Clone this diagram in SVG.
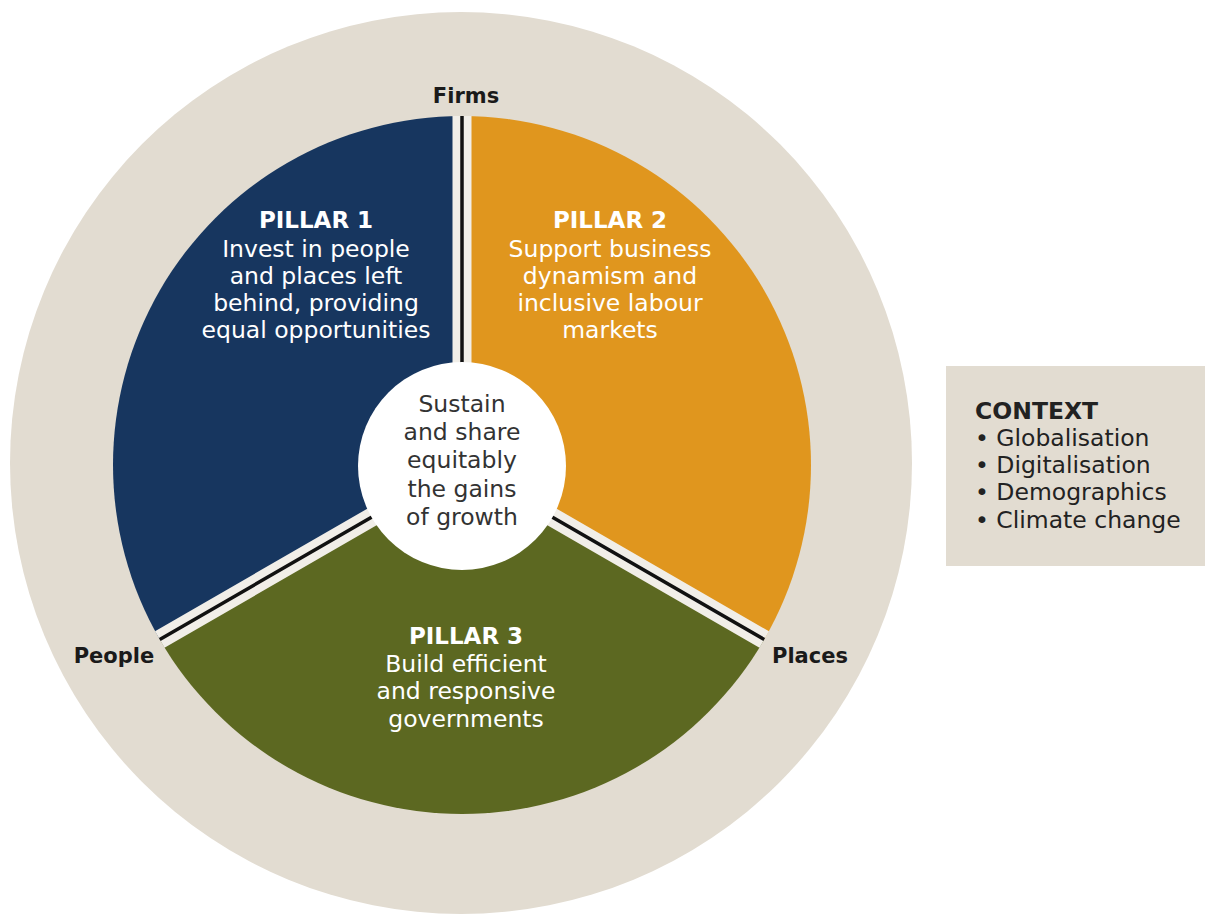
<svg xmlns="http://www.w3.org/2000/svg" width="1205" height="916" viewBox="0 0 1205 916">
<style>
  text { font-family: "DejaVu Sans", Verdana, sans-serif; }
  .lbl { font-size: 21px; font-weight: bold; fill: #1a1a1a; text-anchor: middle; }
  .pt { font-size: 23.5px; fill: #ffffff; text-anchor: middle; }
  .ph { font-size: 23px; font-weight: bold; fill: #ffffff; text-anchor: middle; }
  .ct { font-size: 23.5px; fill: #333333; text-anchor: middle; }
  .cx { font-size: 23.5px; fill: #222222; }
  .gap { stroke: #f1eee8; stroke-width: 19; fill: none; }
  .div { stroke: #111111; stroke-width: 3.5; fill: none; }
</style>
<rect x="0" y="0" width="1205" height="916" fill="#ffffff"/>
<g id="context-ring">
  <circle cx="461" cy="463" r="451" fill="#e2dcd1"/>
</g>
<g id="pillar1">
  <path d="M462,465 L462,116 A349,349 0 0 0 159.76,639.5 Z" fill="#17365f"/>
  <text class="ph" x="316" y="228">PILLAR 1</text>
  <text class="pt" x="316" y="257">Invest in people</text>
  <text class="pt" x="316" y="284">and places left</text>
  <text class="pt" x="316" y="311">behind, providing</text>
  <text class="pt" x="316" y="338">equal opportunities</text>
</g>
<g id="pillar2">
  <path d="M462,465 L462,116 A349,349 0 0 1 764.24,639.5 Z" fill="#e0961e"/>
  <text class="ph" x="610" y="228">PILLAR 2</text>
  <text class="pt" x="610" y="257">Support business</text>
  <text class="pt" x="610" y="284">dynamism and</text>
  <text class="pt" x="610" y="311">inclusive labour</text>
  <text class="pt" x="610" y="338">markets</text>
</g>
<g id="pillar3">
  <path d="M462,465 L159.76,639.5 A349,349 0 0 0 764.24,639.5 Z" fill="#5c6821"/>
  <text class="ph" x="466" y="644">PILLAR 3</text>
  <text class="pt" x="466" y="672">Build efficient</text>
  <text class="pt" x="466" y="699">and responsive</text>
  <text class="pt" x="466" y="727">governments</text>
</g>
<g id="connectors">
  <path class="gap" d="M462,465 L462,116 M462,465 L159.76,639.5 M462,465 L764.24,639.5"/>
  <path class="div" d="M462,465 L462,116 M462,465 L159.76,639.5 M462,465 L764.24,639.5"/>
</g>
<g id="center">
  <circle cx="462" cy="466" r="104" fill="#ffffff"/>
  <text class="ct" x="462" y="412">Sustain</text>
  <text class="ct" x="462" y="440">and share</text>
  <text class="ct" x="462" y="468">equitably</text>
  <text class="ct" x="462" y="497">the gains</text>
  <text class="ct" x="462" y="525">of growth</text>
</g>
<g id="firms"><text class="lbl" x="466" y="103">Firms</text></g>
<g id="people"><text class="lbl" x="114" y="663">People</text></g>
<g id="places"><text class="lbl" x="810" y="663">Places</text></g>
<g id="context">
  <rect x="946" y="366" width="259" height="200" fill="#e2dcd1"/>
  <text class="cx" x="975" y="419" font-weight="bold">CONTEXT</text>
  <text class="cx" x="975" y="446">• Globalisation</text>
  <text class="cx" x="975" y="473">• Digitalisation</text>
  <text class="cx" x="975" y="500">• Demographics</text>
  <text class="cx" x="975" y="528">• Climate change</text>
</g>
</svg>
